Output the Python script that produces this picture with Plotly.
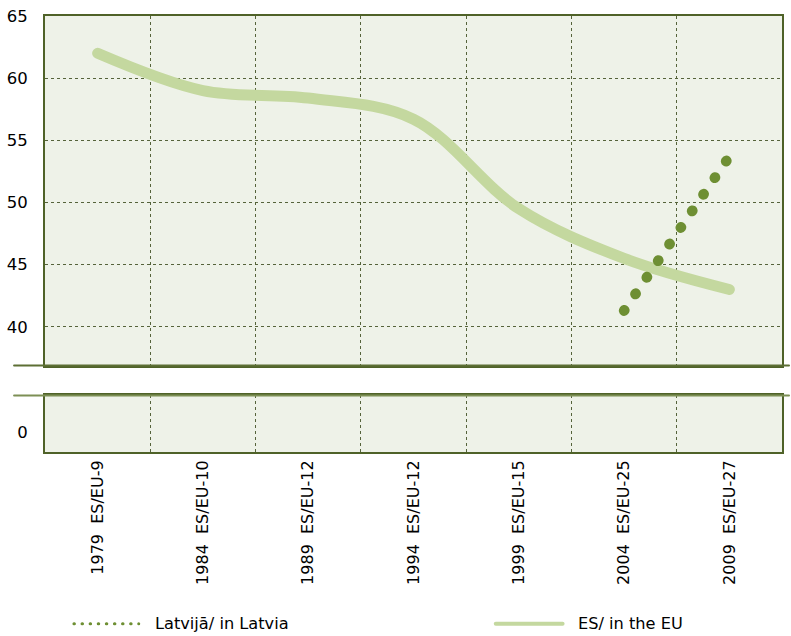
import plotly.graph_objects as go
from plotly.subplots import make_subplots

# ---- data ----
categories = ["1979\u00a0\u00a0ES/EU-9", "1984\u00a0\u00a0ES/EU-10", "1989\u00a0\u00a0ES/EU-12",
              "1994\u00a0\u00a0ES/EU-12", "1999\u00a0\u00a0ES/EU-15", "2004\u00a0\u00a0ES/EU-25",
              "2009\u00a0\u00a0ES/EU-27"]
eu_turnout = [62.0, 59.0, 58.4, 56.7, 49.5, 45.5, 43.0]
latvia_categories = ["2004\u00a0\u00a0ES/EU-25", "2009\u00a0\u00a0ES/EU-27"]
latvia_turnout = [41.3, 53.7]
y_ticks_upper = [40, 45, 50, 55, 60, 65]
y_ticks_lower = [0]
legend_names = ["Latvijā/ in Latvia", "ES/ in the EU"]

# ---- style ----
FONT = "DejaVu Sans"
BG = "#eef2e8"
AXIS = "#4f6228"
GRID = "#55633a"
EU_COLOR = "#c4d89f"
LV_COLOR = "#6e8f33"

W, H = 791, 636
ML, MR, MT, MB = 45, 7, 13, 184
PW, PH = W - ML - MR, H - MT - MB

def px_x(px):
    return (px - ML) / PW

def px_y(py):
    return (H - MB - py) / PH

fig = make_subplots(rows=2, cols=1, shared_xaxes=True, vertical_spacing=30 / PH,
                    row_heights=[352, 57])

fig.add_trace(go.Scatter(x=categories, y=eu_turnout, mode="lines", name=legend_names[1],
                         line=dict(color=EU_COLOR, width=11, shape="spline", smoothing=1.0),
                         showlegend=False, hoverinfo="skip"), row=1, col=1)
fig.add_trace(go.Scatter(x=latvia_categories, y=latvia_turnout, mode="lines", name=legend_names[0],
                         line=dict(color=LV_COLOR, width=10.5, dash="0.5px,19.6px"),
                         showlegend=False, hoverinfo="skip"), row=1, col=1)
# invisible trace to keep lower panel's category axis
fig.add_trace(go.Scatter(x=categories, y=[None] * len(categories), mode="lines",
                         showlegend=False, hoverinfo="skip"), row=2, col=1)

xcommon = dict(type="category", categoryorder="array", categoryarray=categories,
               range=[-0.5, len(categories) - 0.5], tickson="boundaries",
               showgrid=True, gridcolor=GRID, griddash="dot", gridwidth=1,
               showline=True, linecolor=AXIS, linewidth=2, mirror=True,
               zeroline=False, fixedrange=True)
fig.update_xaxes(**xcommon)
fig.update_xaxes(showticklabels=False, ticks="", row=1, col=1)
fig.update_xaxes(tickangle=-90, ticks="outside", ticklen=9, tickcolor="rgba(0,0,0,0)",
                 tickfont=dict(family=FONT, size=16, color="#000"), row=2, col=1)

fig.update_yaxes(range=[36.88, 65], tickvals=y_ticks_upper, ticks="outside", ticklen=12,
                 tickcolor="rgba(0,0,0,0)", tickfont=dict(family=FONT, size=16.5, color="#000"),
                 showgrid=True, gridcolor=GRID, griddash="dot", gridwidth=1,
                 showline=True, linecolor=AXIS, linewidth=2, mirror=True, zeroline=False,
                 fixedrange=True, row=1, col=1)
fig.update_yaxes(range=[-1.6, 2.96], tickvals=y_ticks_lower, ticks="outside", ticklen=12,
                 tickcolor="rgba(0,0,0,0)", tickfont=dict(family=FONT, size=16.5, color="#000"),
                 showgrid=False, showline=True, linecolor=AXIS, linewidth=2, mirror=True,
                 zeroline=False, fixedrange=True, row=2, col=1)

shapes = []
# axis-break lines
for py, col in [(365, "#5d6f34"), (395, "#7d8f55")]:
    shapes.append(dict(type="line", xref="paper", yref="paper", x0=px_x(14), x1=px_x(791),
                       y0=px_y(py), y1=px_y(py), line=dict(color=col, width=2)))
# legend samples
shapes.append(dict(type="line", xref="paper", yref="paper", x0=px_x(74), x1=px_x(139),
                   y0=px_y(625), y1=px_y(625), line=dict(color=LV_COLOR, width=3, dash="0.5px,7.6px")))
shapes.append(dict(type="line", xref="paper", yref="paper", x0=px_x(497), x1=px_x(564),
                   y0=px_y(625), y1=px_y(625), line=dict(color=EU_COLOR, width=4)))

annotations = [
    dict(xref="paper", yref="paper", x=px_x(153), y=px_y(625), text=legend_names[0],
         showarrow=False, xanchor="left", yanchor="middle",
         font=dict(family=FONT, size=16.2, color="#000")),
    dict(xref="paper", yref="paper", x=px_x(577), y=px_y(625), text=legend_names[1],
         showarrow=False, xanchor="left", yanchor="middle",
         font=dict(family=FONT, size=16.2, color="#000")),
]

fig.update_layout(width=W, height=H, margin=dict(l=ML, r=MR, t=MT, b=MB),
                  paper_bgcolor="white", plot_bgcolor=BG, showlegend=False,
                  shapes=shapes, annotations=annotations,
                  font=dict(family=FONT, size=15, color="#000"))

post = """
document.body.style.margin = '0';
document.body.style.overflow = 'hidden';
var gd = document.getElementById('{plot_id}');
gd.querySelectorAll('.scatterlayer .js-line, .shapelayer path').forEach(function(p){
  p.style.strokeLinecap = 'round';
});
"""
fig.write_html("out.html", post_script=post, config={"displayModeBar": False})
